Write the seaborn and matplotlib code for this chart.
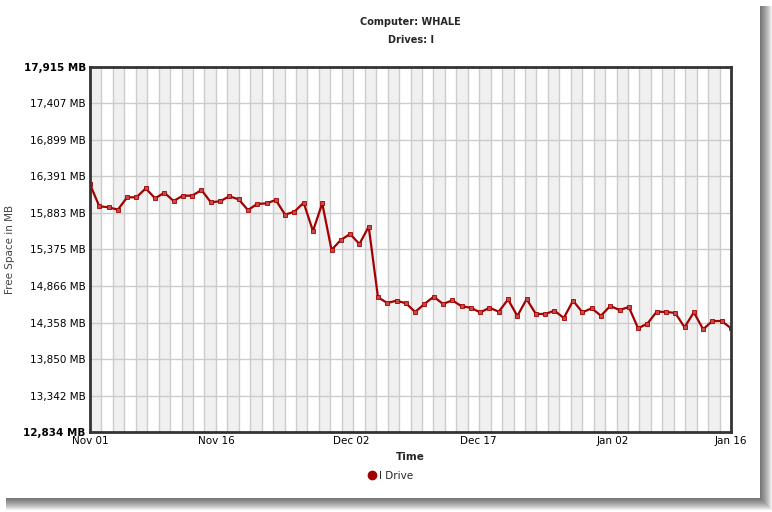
"""Free space chart for computer WHALE, drive I."""

import matplotlib

matplotlib.use("Agg")
import matplotlib.dates as mdates
import matplotlib.pyplot as plt
import numpy as np
import pandas as pd
import seaborn as sns
from matplotlib.lines import Line2D
from matplotlib.patches import Rectangle

TITLE_LINES = ["Computer: WHALE", "Drives: I"]
SERIES_NAME = "I Drive"
START, END = "2008-11-01", "2009-01-16"

FREE_MB = [
    16282, 15976, 15962, 15929, 16101, 16101, 16226, 16087, 16165, 16050,
    16124, 16124, 16203, 16032, 16046, 16115, 16073, 15924, 16008, 16017,
    16064, 15859, 15901, 16026, 15632, 16017, 15368, 15507, 15590, 15451,
    15692, 14709, 14630, 14662, 14626, 14505, 14616, 14718, 14616, 14667,
    14584, 14564, 14498, 14564, 14509, 14679, 14449, 14683, 14477, 14477,
    14523, 14421, 14662, 14500, 14556, 14453, 14588, 14532, 14574, 14278,
    14342, 14509, 14505, 14491, 14292, 14500, 14264, 14379, 14379, 14278,
]
Y_TICKS = [12834, 13342, 13850, 14358, 14866, 15375, 15883, 16391, 16899, 17407, 17915]
X_TICK_DATES = ["2008-11-01", "2008-11-16", "2008-12-02", "2008-12-17", "2009-01-02", "2009-01-16"]
X_TICK_LABELS = ["Nov 01", "Nov 16", "Dec 02", "Dec 17", "Jan 02", "Jan 16"]

RED = "#a30000"
W, H = 772, 512

sns.set_style("white")
plt.rcParams["font.family"] = ["DejaVu Sans"]

df = pd.DataFrame({
    "time": pd.date_range(START, END, periods=len(FREE_MB)),
    "free": FREE_MB,
})

fig = plt.figure(figsize=(W / 100, H / 100), dpi=100)

# card with drop shadow (pixel coords, y from top)
def px_rect(x0, y0, x1, y1, **kw):
    return Rectangle((x0 / W, 1 - y1 / H), (x1 - x0) / W, (y1 - y0) / H,
                     transform=fig.transFigure, **kw)

for i in range(1, 13):
    fig.patches.append(px_rect(6, 6, 760 + i, 498 + i, color="black",
                               alpha=0.06, lw=0, zorder=-3))
fig.patches.append(px_rect(0, 0, 760, 498, color="white", lw=0, zorder=-2))
fig.patch.set_facecolor("white")

ax = fig.add_axes([90 / W, 1 - 432 / H, 641 / W, 365 / H])
ax.set_facecolor("white")

x0 = mdates.date2num(df["time"].iloc[0])
x1 = mdates.date2num(df["time"].iloc[-1])
edges = np.linspace(x0, x1, 57)
for k in range(56):
    if k % 2 == 0:
        ax.axvspan(edges[k], edges[k + 1], color="#f0f0f0", lw=0, zorder=0)
for e in edges[1:-1]:
    ax.axvline(e, color="#cccccc", lw=1, zorder=1)
for t in Y_TICKS[1:-1]:
    ax.axhline(t, color="#cccccc", lw=1, zorder=1)

sns.lineplot(data=df, x="time", y="free", ax=ax, color=RED, lw=1.6,
             marker="s", markersize=2.4, markerfacecolor="#c54a4a",
             markeredgecolor=RED, markeredgewidth=0.6, zorder=3, legend=False)

ax.set_xlim(x0, x1)
ax.set_ylim(Y_TICKS[0], Y_TICKS[-1])
ax.set_yticks(Y_TICKS)
ax.set_yticklabels([f"{v:,} MB" for v in Y_TICKS])
for i, lab in enumerate(ax.get_yticklabels()):
    if i in (0, len(Y_TICKS) - 1):
        lab.set_fontweight("bold")
ax.set_xticks([mdates.date2num(pd.Timestamp(d)) for d in X_TICK_DATES])
ax.set_xticklabels(X_TICK_LABELS)
ax.tick_params(axis="both", length=0, labelsize=7.5, colors="black")
ax.tick_params(axis="y", pad=3)
ax.tick_params(axis="x", pad=3)

for s in ax.spines.values():
    s.set_visible(True)
    s.set_color("#333333")
    s.set_linewidth(2)
    s.set_zorder(5)

ax.set_xlabel("Time", fontsize=7.5, fontweight="bold")
ax.xaxis.set_label_coords(0.5, -0.055)
ax.set_ylabel("Free Space in MB", fontsize=7.5, color="#444444")
ax.yaxis.set_label_coords(-75 / 641, 0.5)

cx = (90 + 731) / 2 / W
fig.text(cx, 1 - 22 / H, TITLE_LINES[0], ha="center", va="center",
         fontsize=7, fontweight="bold")
fig.text(cx, 1 - 40 / H, TITLE_LINES[1], ha="center", va="center",
         fontsize=7, fontweight="bold")

handle = Line2D([], [], color=RED, marker="o", markersize=6, lw=0)
fig.legend([handle], [SERIES_NAME], loc="center", bbox_to_anchor=(390 / W, 1 - 476 / H),
           frameon=False, fontsize=7.5, handletextpad=0.1, handlelength=1)

fig.savefig("out.png", dpi=100)
